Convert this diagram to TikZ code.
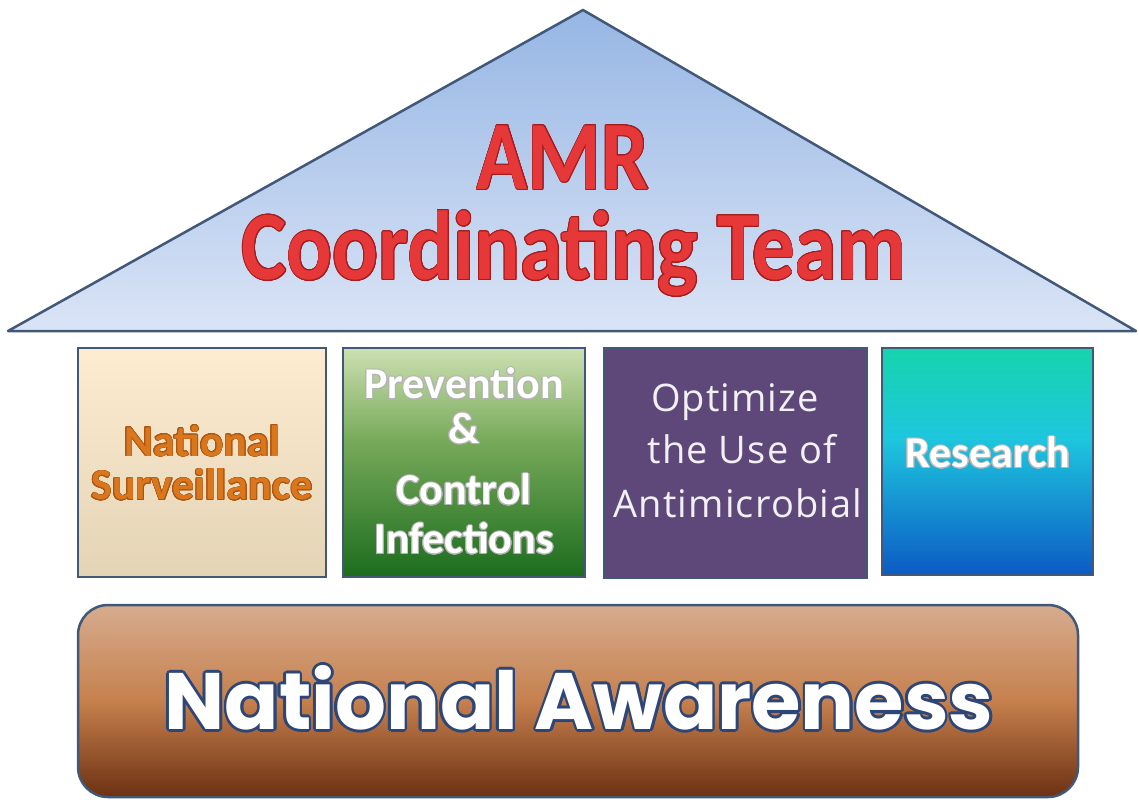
\documentclass[tikz,border=0pt]{standalone}
\usepackage{fontspec}
\usepackage{contour}
\newfontfamily\calib{Carlito}
\newfontfamily\pop{Poppins}
\newfontfamily\osans{Open Sans}
\definecolor{edge}{RGB}{65,88,120}
\definecolor{triTop}{RGB}{150,182,228}
\definecolor{triBot}{RGB}{218,228,246}
\definecolor{amrRed}{RGB}{230,56,56}
\definecolor{amrDark}{RGB}{165,28,28}
\definecolor{b1Top}{RGB}{253,236,208}
\definecolor{b1Bot}{RGB}{228,212,182}
\definecolor{b1Text}{RGB}{218,118,28}
\definecolor{b1Dark}{RGB}{170,85,20}
\definecolor{b2Top}{RGB}{205,224,178}
\definecolor{b2Mid}{RGB}{120,170,90}
\definecolor{b2Bot}{RGB}{28,108,30}
\definecolor{b3Fill}{RGB}{94,72,122}
\definecolor{b4Top}{RGB}{22,212,172}
\definecolor{b4Mid}{RGB}{30,198,222}
\definecolor{b4Bot}{RGB}{12,90,196}
\definecolor{nTop}{RGB}{214,172,142}
\definecolor{nMid}{RGB}{198,128,78}
\definecolor{nBot}{RGB}{108,48,18}
\definecolor{navyText}{RGB}{45,70,120}
\pgfdeclareverticalshading{greenbox}{100bp}{color(0bp)=(b2Bot); color(25bp)=(b2Bot); color(55bp)=(b2Mid); color(75bp)=(b2Top); color(100bp)=(b2Top)}
\pgfdeclareverticalshading{researchbox}{100bp}{color(0bp)=(b4Bot); color(25bp)=(b4Bot); color(55bp)=(b4Mid); color(75bp)=(b4Top); color(100bp)=(b4Top)}
\pgfdeclareverticalshading{awarebox}{100bp}{color(0bp)=(nBot); color(25bp)=(nBot); color(50bp)=(nMid); color(75bp)=(nTop); color(100bp)=(nTop)}
\tikzset{
  pillar/.style={draw=edge, line width=1.25pt, rectangle, inner sep=0pt},
  boxtext/.style={font=\calib\bfseries\fontsize{22}{24}\selectfont, align=center, inner sep=0pt},
  opttext/.style={font=\osans\fontsize{19}{21}\selectfont, text=white!92!b3Fill, inner sep=0pt},
}
\begin{document}
\begin{tikzpicture}[x=0.5pt,y=-0.5pt]
\useasboundingbox (0,0) rectangle (1139,799);
% roof
\shade[top color=triTop, bottom color=triBot] (8,331) -- (583,10) -- (1136,331) -- cycle;
\draw[edge, line width=1.25pt, line join=round] (8,331) -- (583,10) -- (1136,331) -- cycle;
\contourlength{0.5pt}
\node[font=\calib\bfseries\fontsize{49}{50}\selectfont, text=amrRed, inner sep=0pt, xscale=0.86] (amr) at (563,158) {\contour{amrDark}{AMR}};
\node[font=\calib\bfseries\fontsize{49}{50}\selectfont, text=amrRed, inner sep=0pt, xscale=0.87] (team) at (574,254) {\contour{amrDark}{Coordinating Team}};
% pillars
\node[pillar, top color=b1Top, bottom color=b1Bot, minimum width=124pt, minimum height=114.5pt] (surv) at (202,462.5) {};
\node[pillar, shading=greenbox, minimum width=121pt, minimum height=114.5pt] (prev) at (464,462.5) {};
\node[pillar, fill=b3Fill, minimum width=131.5pt, minimum height=115pt] (opt) at (735.5,463) {};
\node[pillar, shading=researchbox, minimum width=105.5pt, minimum height=113.5pt] (res) at (987.5,461.5) {};
% pillar texts
\contourlength{0.3pt}
\node[boxtext, text=b1Text] (survA) at (202,441) {\contour{b1Dark}{National}};
\node[boxtext, text=b1Text] (survB) at (202,485) {\contour{b1Dark}{Surveillance}};
\contourlength{0.45pt}
\node[boxtext, text=white] (prevA) at (464,384) {\contour{gray!60}{Prevention}};
\node[boxtext, text=white] (prevB) at (464,429) {\contour{gray!60}{\&}};
\node[boxtext, text=white] (prevC) at (464,490) {\contour{gray!60}{Control}};
\node[boxtext, text=white] (prevD) at (464,539) {\contour{gray!60}{Infections}};
\node[opttext] (optA) at (735,402) {\addfontfeature{LetterSpace=3}Optimize};
\node[opttext] (optB) at (742,449) {\addfontfeature{LetterSpace=3}the Use of};
\node[opttext] (optC) at (738,503) {\addfontfeature{LetterSpace=3}Antimicrobial};
\node[boxtext, text=white] (resA) at (988,453) {\contour{gray!55}{Research}};
% base
\node[draw=edge, line width=1.25pt, rounded corners=15pt, shading=awarebox, minimum width=500pt, minimum height=96pt] (aware) at (578,701) {};
\contourlength{1.3pt}
\node[font=\pop\bfseries\fontsize{40}{42}\selectfont, text=white, inner sep=0pt] (awareT) at (579,699) {\contour{navyText}{National Awareness}};
\end{tikzpicture}
\end{document}
